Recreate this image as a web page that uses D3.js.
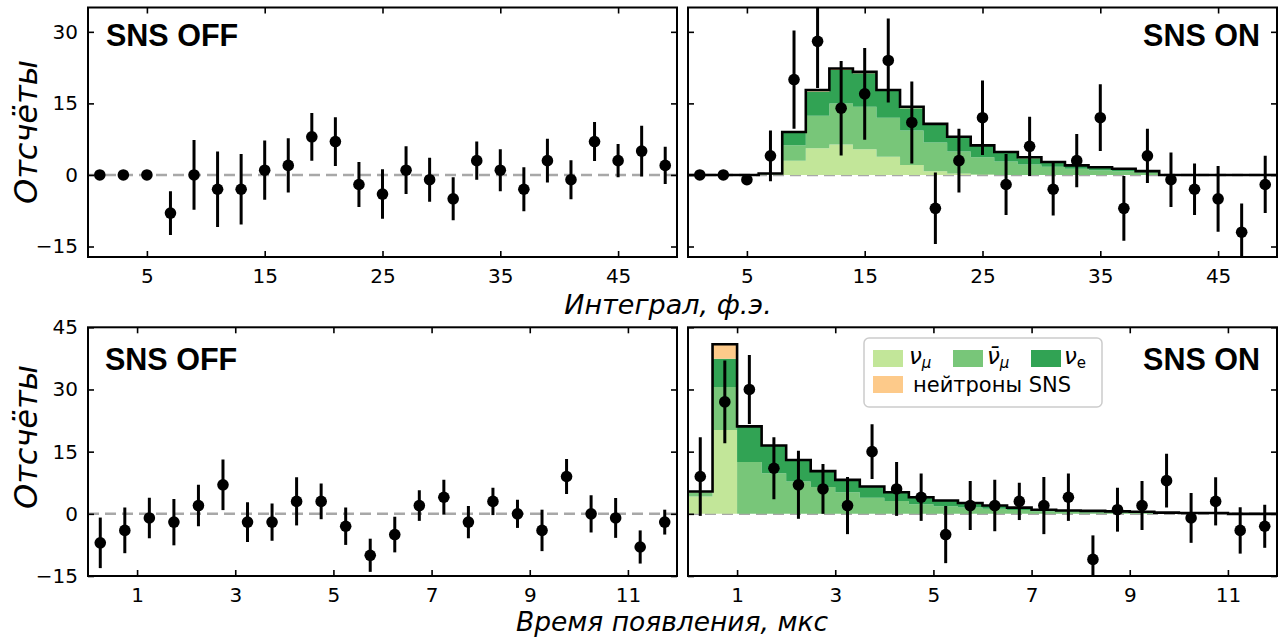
<!DOCTYPE html>
<html><head><meta charset="utf-8">
<script src="https://cdn.jsdelivr.net/npm/d3@7"></script>
<style>body{margin:0;background:#fff}svg{display:block}</style>
</head><body><svg id="c" width="1280" height="640"></svg>
<script>
// ---------- data: integral (photoelectrons) ----------
const peCenters = [1,3,5,7,9,11,13,15,17,19,21,23,25,27,29,31,33,35,37,39,41,43,45,47,49];
const peEdges = [0,2,4,6,8,10,12,14,16,18,20,22,24,26,28,30,32,34,36,38,40,42,44,46,48,50];
const peOff = [0,0,0,-8,0,-3,-3,1,2,8,7,-2,-4,1,-1,-5,3,1,-3,3,-1,7,3,5,2];
const peOffErr = [0.4,0.4,0.4,4.6,7.3,7.9,7.4,6.2,5.7,5,5.1,4.7,5.2,5,4.6,4.5,4,4.4,4.6,4.6,4.1,4.1,3.5,5.3,3.9];
const peOn = [0,0,-1,4,20,28,14,17,24,11,-7,3,12,-2,6,-3,3,12,-7,4,-1,-3,-5,-12,-2];
const peOnErr = [0.4,0.4,0.8,5.3,10.3,9.8,9.9,9.6,8.8,8.6,7.5,6.7,7.8,6.4,6.2,5.5,5.6,7,6.8,5.7,5.7,5.4,6.9,6,6];
const peNumu =    [0,0,0,0.1,3.0,5.6,6.4,5.4,3.8,2.1,0.8,0.3,0.1,0,0,0,0,0,0,0,0,0,0,0,0];
const peNumubar = [0,0,0,0.1,3.2,6.8,8.6,8.9,8.2,7.2,6.0,4.6,3.6,2.8,2.2,1.7,1.3,1.0,0.8,0.5,0,0,0,0,0];
const peNue =     [0,0,0,0.1,2.7,5.1,7.0,7.0,5.6,4.7,3.7,3.0,2.4,1.9,1.3,0.9,0.7,0.6,0.5,0.3,0,0,0,0,0];
const peNeutron = [0,0,0,0,0.1,0.3,0.3,0.3,0.2,0.3,0.2,0.1,0.1,0.1,0.2,0.1,0,0,0,0,0,0,0,0,0];
const peXTicks = [5,15,25,35,45];
const peYTicks = [-15,0,15,30];

// ---------- data: arrival time (us) ----------
const tCenters = [0.25,0.75,1.25,1.75,2.25,2.75,3.25,3.75,4.25,4.75,5.25,5.75,6.25,6.75,7.25,7.75,8.25,8.75,9.25,9.75,10.25,10.75,11.25,11.75];
const tEdges = [0,0.5,1,1.5,2,2.5,3,3.5,4,4.5,5,5.5,6,6.5,7,7.5,8,8.5,9,9.5,10,10.5,11,11.5,12];
const tOff = [-7,-4,-1,-2,2,7,-2,-2,3,3,-3,-10,-5,2,4,-2,3,0,-4,9,0,-1,-8,-2];
const tOffErr = [6.1,5.5,4.9,5.6,5,6.1,4.8,4.5,5.8,4.3,4.5,4,4.3,3.7,4.2,3.9,3.3,3.4,5,4.2,4.5,4.8,4,3];
const tOn = [9,27,30,11,7,6,2,15,6,4,-5,2,2,3,2,4,-11,1,2,8,-1,3,-4,-3];
const tOnErr = [9.5,10,8.3,7.5,8.2,6,6.9,6.6,6.5,5.7,6.9,5.9,6.2,4.5,6.9,5.7,5.8,5.3,5.9,6.5,6,5.8,5.6,5.2];
const tNumu =    [4.2,20.2,0,0,0,0,0,0,0,0,0,0,0,0,0,0,0,0,0,0,0,0,0,0];
const tNumubar = [0.9,10.4,12.5,9.8,7.8,6.5,5.2,3.9,3.1,2.3,1.8,1.5,1.2,0.9,0.6,0.5,0.4,0.35,0.3,0.2,0.12,0.1,0,0];
const tNue =     [0.1,6.8,8.6,6.7,5.2,3.8,3.0,2.7,2.1,1.7,1.4,1.1,0.8,0.6,0.4,0.3,0.3,0.25,0.2,0.1,0.08,0.1,0,0];
const tNeutron = [0.2,3.5,0,0,0,0,0,0,0,0,0,0,0,0,0,0,0,0,0,0,0,0,0,0];
const tXTicks = [1,3,5,7,9,11];
const tYTicks = [-15,0,15,30,45];

const layerKeys = ["numu","numubar","nue","neutron"];
const layerColors = {numu:"#c2e699", numubar:"#78c679", nue:"#31a354", neutron:"#fdca8a"};

const svg = d3.select("#c");
let clipId = 0;

function panel(o){
  const x = d3.scaleLinear().domain(o.xDomain).range([o.x0, o.x1]);
  const y = d3.scaleLinear().domain(o.yDomain).range([o.y1, o.y0]);
  const g = svg.append("g");
  const cid = "clip" + (clipId++);
  g.append("clipPath").attr("id", cid).append("rect")
    .attr("x", o.x0).attr("y", o.y0).attr("width", o.x1 - o.x0).attr("height", o.y1 - o.y0);
  const inner = g.append("g").attr("clip-path", `url(#${cid})`);

  inner.append("line").attr("x1", o.x0).attr("x2", o.x1).attr("y1", y(0)).attr("y2", y(0))
    .attr("stroke", "#a8a8a8").attr("stroke-width", 2.5).attr("stroke-dasharray", "11,6");

  if (o.stack){
    const rows = o.edges.slice(0, -1).map((e, i) => ({
      x0: e, numu: o.stack.numu[i], numubar: o.stack.numubar[i], nue: o.stack.nue[i], neutron: o.stack.neutron[i]
    }));
    const series = d3.stack().keys(layerKeys)(rows);
    const last = o.edges[o.edges.length - 1];
    series.forEach(s => {
      const pts = s.map((d, i) => ({x: o.edges[i], y0: d[0], y1: d[1]}));
      pts.push({x: last, y0: pts[pts.length-1].y0, y1: pts[pts.length-1].y1});
      inner.append("path").datum(pts)
        .attr("fill", layerColors[s.key])
        .attr("d", d3.area().curve(d3.curveStepAfter).x(d => x(d.x)).y0(d => y(d.y0)).y1(d => y(d.y1)));
    });
    const top = series[series.length - 1];
    const tpts = top.map((d, i) => ({x: o.edges[i], v: d[1]}));
    tpts.push({x: last, v: tpts[tpts.length-1].v});
    inner.append("path").datum(tpts).attr("fill", "none").attr("stroke", "#000").attr("stroke-width", 2.6)
      .attr("d", d3.line().curve(d3.curveStepAfter).x(d => x(d.x)).y(d => y(d.v)));
  }

  const pts = o.centers.map((c, i) => ({c, v: o.values[i], e: o.errs[i]}));
  inner.selectAll("line.eb").data(pts).join("line").attr("class", "eb")
    .attr("x1", d => x(d.c)).attr("x2", d => x(d.c))
    .attr("y1", d => y(d.v - d.e)).attr("y2", d => y(d.v + d.e))
    .attr("stroke", "#000").attr("stroke-width", 3);
  inner.selectAll("circle").data(pts).join("circle")
    .attr("cx", d => x(d.c)).attr("cy", d => y(d.v)).attr("r", 5.8).attr("fill", "#000");

  const tl = 6;
  const axB = g.append("g").attr("transform", `translate(0,${o.y1})`)
    .call(d3.axisBottom(x).tickValues(o.xTicks).tickSize(-tl).tickPadding(12).tickFormat(d3.format("d")));
  const axT = g.append("g").attr("transform", `translate(0,${o.y0})`)
    .call(d3.axisTop(x).tickValues(o.xTicks).tickSize(-tl).tickFormat(""));
  const axL = g.append("g").attr("transform", `translate(${o.x0},0)`)
    .call(d3.axisLeft(y).tickValues(o.yTicks).tickSize(-tl).tickPadding(10).tickFormat(o.showY ? d3.format("d") : ""));
  const axR = g.append("g").attr("transform", `translate(${o.x1},0)`)
    .call(d3.axisRight(y).tickValues(o.yTicks).tickSize(-tl).tickFormat(""));
  [axB, axT, axL, axR].forEach(a => {
    a.select(".domain").remove();
    a.selectAll(".tick line").attr("stroke", "#000").attr("stroke-width", 1.6);
    a.selectAll("text").attr("font-family", "DejaVu Sans").attr("font-size", 20).attr("fill", "#000");
  });
  g.append("rect").attr("x", o.x0).attr("y", o.y0).attr("width", o.x1 - o.x0).attr("height", o.y1 - o.y0)
    .attr("fill", "none").attr("stroke", "#000").attr("stroke-width", 2);

  g.append("text").attr("x", o.titleX).attr("y", o.titleY).attr("text-anchor", o.titleAnchor)
    .attr("font-family", "Liberation Sans, Arial, sans-serif").attr("font-weight", "bold")
    .attr("font-size", 30.5).text(o.title);
  return {x, y, g};
}

const L = [88, 677], R = [688, 1277];
const TOP = [7.5, 257], BOT = [327.3, 576];
const peY = [-17.2, 35.1], tY = [-15, 45];

panel({x0:L[0], x1:L[1], y0:TOP[0], y1:TOP[1], xDomain:[0,50], yDomain:peY, centers:peCenters, values:peOff, errs:peOffErr,
  xTicks:peXTicks, yTicks:peYTicks, showY:true, title:"SNS OFF", titleX:106, titleY:46, titleAnchor:"start"});
panel({x0:R[0], x1:R[1], y0:TOP[0], y1:TOP[1], xDomain:[0,50], yDomain:peY, centers:peCenters, values:peOn, errs:peOnErr,
  edges:peEdges, stack:{numu:peNumu, numubar:peNumubar, nue:peNue, neutron:peNeutron},
  xTicks:peXTicks, yTicks:peYTicks, showY:false, title:"SNS ON", titleX:1260, titleY:46, titleAnchor:"end"});
panel({x0:L[0], x1:L[1], y0:BOT[0], y1:BOT[1], xDomain:[0,12], yDomain:tY, centers:tCenters, values:tOff, errs:tOffErr,
  xTicks:tXTicks, yTicks:tYTicks, showY:true, title:"SNS OFF", titleX:105, titleY:370, titleAnchor:"start"});
panel({x0:R[0], x1:R[1], y0:BOT[0], y1:BOT[1], xDomain:[0,12], yDomain:tY, centers:tCenters, values:tOn, errs:tOnErr,
  edges:tEdges, stack:{numu:tNumu, numubar:tNumubar, nue:tNue, neutron:tNeutron},
  xTicks:tXTicks, yTicks:tYTicks, showY:false, title:"SNS ON", titleX:1260, titleY:370, titleAnchor:"end"});

function addText(t, x, y, anchor, size, rot){
  const e = svg.append("text").attr("x", x).attr("y", y).attr("text-anchor", anchor)
    .attr("font-family", "DejaVu Sans").attr("font-style", "italic").attr("font-size", size).attr("fill", "#000").text(t);
  if (rot) e.attr("transform", `rotate(-90,${x},${y})`);
  return e;
}
addText("Интеграл, ф.э.", 668, 313.5, "middle", 27);
addText("Время появления, мкс", 672, 631, "middle", 26.5);
addText("Отсчёты", 37, 132, "middle", 32, true);
addText("Отсчёты", 37, 437, "middle", 32, true);

// legend
const lg = svg.append("g");
lg.append("rect").attr("x", 864).attr("y", 338).attr("width", 238).attr("height", 69).attr("rx", 5)
  .attr("fill", "#fff").attr("fill-opacity", 0.85).attr("stroke", "#cccccc").attr("stroke-width", 1.5);
const legendItems = [
  {key:"numu", px:873, py:350, tx:909, ty:364, base:"ν", sub:"μ"},
  {key:"numubar", px:953, py:350, tx:987, ty:364, base:"ν\u0304", sub:"μ"},
  {key:"nue", px:1031, py:350, tx:1064, ty:364, base:"ν", sub:"e", upright:true},
];
legendItems.forEach(it => {
  lg.append("rect").attr("x", it.px).attr("y", it.py).attr("width", 30).attr("height", 17).attr("fill", layerColors[it.key]);
  const t = lg.append("text").attr("x", it.tx).attr("y", it.ty).attr("font-family", "DejaVu Sans").attr("font-size", 23).attr("fill", "#000");
  t.append("tspan").attr("font-style", "italic").text(it.base);
  t.append("tspan").attr("dy", 4).attr("font-size", 15).attr("font-style", it.upright ? "normal" : "italic").text(it.sub);
});
lg.append("rect").attr("x", 873).attr("y", 376).attr("width", 30).attr("height", 17).attr("fill", layerColors.neutron);
lg.append("text").attr("x", 913).attr("y", 392).attr("font-family", "DejaVu Sans").attr("font-size", 21)
  .attr("fill", "#000").text("нейтроны SNS");
</script>
</body></html>
